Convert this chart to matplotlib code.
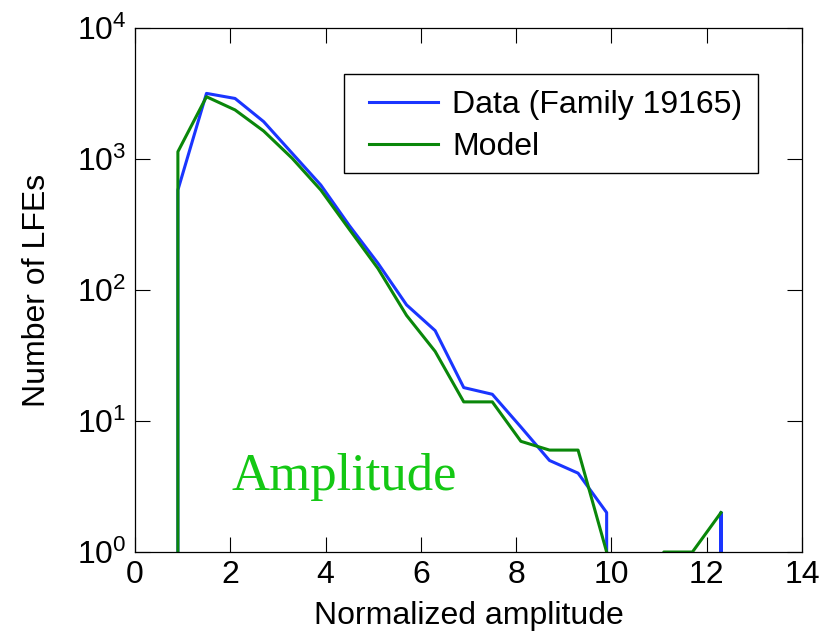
import numpy as np
import matplotlib
matplotlib.use("Agg")
import matplotlib.pyplot as plt
from matplotlib.patches import Rectangle

# Bin centres (normalized amplitude)
bins = [0.3, 0.9, 1.5, 2.1, 2.7, 3.3, 3.9, 4.5, 5.1, 5.7, 6.3, 6.9, 7.5,
        8.1, 8.7, 9.3, 9.9, 10.5, 11.1, 11.7, 12.3, 12.9]
# Observed counts (Family 19165)
data_counts = [0, 580, 3170, 2900, 1930, 1105, 633, 310, 160, 77, 49, 18, 16,
               9, 5, 4, 2, 0, 0, 0, 2, 0]
# Model counts
model_counts = [0, 1137, 2990, 2370, 1636, 1012, 580, 290, 146, 64, 34, 14, 14,
                7, 6, 6, 1, 0, 1, 1, 2]

x_ticks = [0, 2, 4, 6, 8, 10, 12, 14]
y_ticks = [1, 10, 100, 1000, 10000]
y_ticklabels = [r"$10^{0}$", r"$10^{1}$", r"$10^{2}$", r"$10^{3}$", r"$10^{4}$"]

TINY = 1e-12


def log_path(xs, cs):
    """Emulate MATLAB: a segment to a zero count drops vertically."""
    px, py = [], []
    n = len(cs)
    for i in range(n):
        if cs[i] > 0:
            if i > 0 and cs[i - 1] == 0:
                px.append(xs[i]); py.append(TINY)
            px.append(xs[i]); py.append(cs[i])
            if i < n - 1 and cs[i + 1] == 0:
                px.append(xs[i]); py.append(TINY)
        else:
            if px and not np.isnan(py[-1]):
                px.append(np.nan); py.append(np.nan)
    return px, py


plt.rcParams['font.family'] = ['Liberation Sans', 'DejaVu Sans']
plt.rcParams['mathtext.fontset'] = 'custom'
plt.rcParams['mathtext.rm'] = 'Liberation Sans'
plt.rcParams['mathtext.it'] = 'Liberation Sans'

FS = 23

fig = plt.figure(figsize=(8.36, 6.37), dpi=100)
ax = fig.add_axes([0.1615, 0.1334, 0.7978, 0.8226])

bx, by = log_path(bins, data_counts)
mx, my = log_path(bins[:len(model_counts)], model_counts)
ax.plot(bx, by, color='#1a35ff', lw=2.2, label='Data (Family 19165)')
ax.plot(mx, my, color='#0a870a', lw=2.2, label='Model')

ax.set_yscale('log')
ax.set_xlim(0, 14)
ax.set_ylim(1, 10000)
ax.set_xticks(x_ticks)
ax.set_xticklabels([str(t) for t in x_ticks])
ax.set_yticks(y_ticks)
ax.set_yticklabels(y_ticklabels)
ax.yaxis.set_minor_locator(matplotlib.ticker.NullLocator())
ax.tick_params(axis='both', which='major', direction='in', length=11, width=0.8,
               top=True, right=True, labelsize=FS, pad=6)
for s in ax.spines.values():
    s.set_linewidth(0.9)

ax.set_xlabel('Normalized amplitude', fontsize=FS, labelpad=8)
ax.set_ylabel('Number of LFEs', fontsize=FS)
ax.yaxis.set_label_coords(-0.125, 0.5)

leg = ax.legend(loc='upper left', bbox_to_anchor=(0.3508, 0.882), fontsize=FS,
                frameon=False, handlelength=2.15, handletextpad=0.45,
                borderpad=0, labelspacing=0.39, borderaxespad=0)

# legend frame
ax.add_patch(Rectangle((0.3133, 0.7233), 0.934 - 0.3133, 0.9122 - 0.7233,
                       transform=ax.transAxes, fill=False, edgecolor='black',
                       lw=1.0, zorder=5))

ax.text(2.03, 3.0, 'Amplitude', family=['Liberation Serif', 'DejaVu Serif'],
        fontsize=38, color='#14c814', ha='left', va='baseline')

fig.savefig('out.png', dpi=100)
